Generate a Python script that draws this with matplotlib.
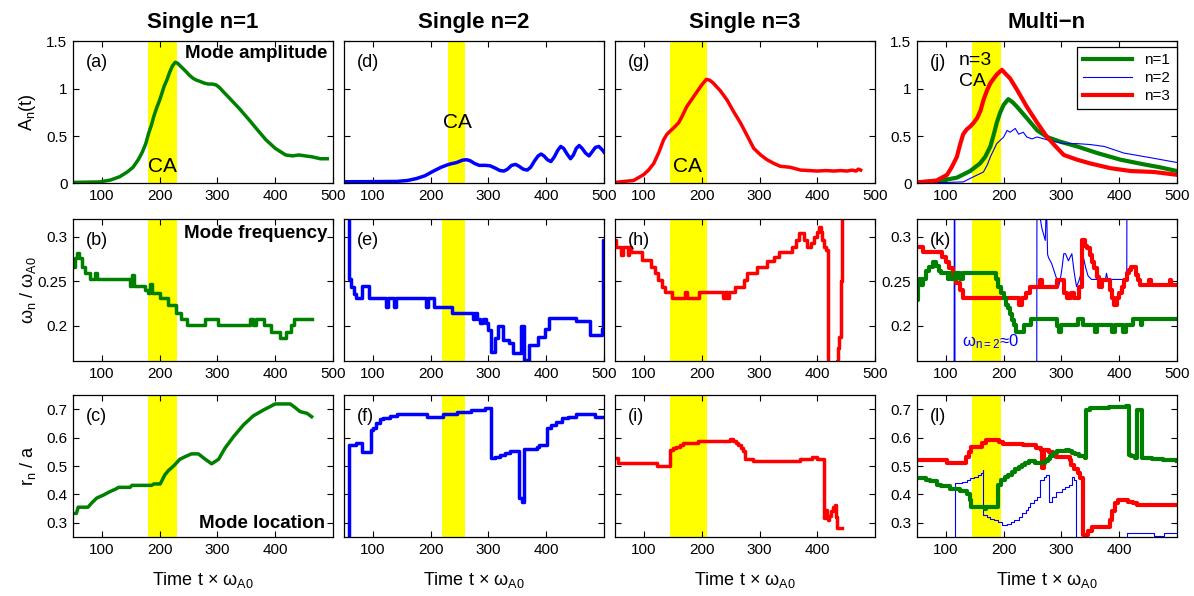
import matplotlib
matplotlib.use("Agg")
import matplotlib.pyplot as plt
import numpy as np

plt.rcParams['font.family'] = ['Liberation Sans', 'DejaVu Sans']
plt.rcParams['mathtext.fontset'] = 'custom'
plt.rcParams['mathtext.rm'] = 'Liberation Sans'
plt.rcParams['mathtext.default'] = 'regular'

GREEN = '#008000'
BLUE = '#0000ff'
RED = '#ff0000'
YELLOW = '#ffff00'

######## data ###############################

# row 1 : mode amplitude
a_t = [50, 97, 115, 131, 144, 154, 163, 170, 176, 181, 186, 190, 195, 200, 208, 213, 217, 222, 227, 231, 236, 241, 246, 252, 258, 264, 269, 277, 284, 291, 298, 304, 310, 321, 338, 355, 370, 384, 400, 418, 430, 441, 452, 464, 478, 490]
a_A = [0.01, 0.015, 0.035, 0.07, 0.12, 0.17, 0.25, 0.33, 0.42, 0.53, 0.62, 0.71, 0.80, 0.88, 1.03, 1.10, 1.17, 1.24, 1.28, 1.27, 1.24, 1.21, 1.18, 1.14, 1.11, 1.09, 1.08, 1.06, 1.05, 1.05, 1.04, 1.01, 0.97, 0.90, 0.79, 0.67, 0.56, 0.46, 0.37, 0.30, 0.29, 0.30, 0.29, 0.28, 0.26, 0.26]

d_t = [50, 100, 141, 160, 175, 190, 205, 218, 231, 245, 255, 262, 268, 276, 284, 295, 303, 312, 320, 327, 333, 340, 347, 353, 360, 367, 373, 380, 386, 391, 396, 402, 408, 414, 420, 425, 430, 436, 442, 447, 452, 457, 462, 468, 474, 479, 485, 491, 496, 500]
d_A = [0.017, 0.018, 0.02, 0.03, 0.05, 0.08, 0.13, 0.17, 0.20, 0.22, 0.245, 0.25, 0.24, 0.21, 0.19, 0.19, 0.185, 0.16, 0.135, 0.13, 0.15, 0.19, 0.20, 0.18, 0.15, 0.14, 0.17, 0.24, 0.29, 0.31, 0.29, 0.25, 0.23, 0.28, 0.35, 0.39, 0.37, 0.31, 0.26, 0.30, 0.37, 0.40, 0.37, 0.32, 0.29, 0.33, 0.38, 0.39, 0.36, 0.33]

g_t = [50, 82, 99, 108, 117, 126, 134, 140, 145, 152, 160, 167, 174, 183, 192, 200, 208, 214, 220, 232, 244, 255, 267, 279, 290, 302, 313, 325, 336, 353, 371, 386, 400, 415, 429, 440, 452, 460, 467, 471, 475]
g_A = [0.01, 0.03, 0.09, 0.14, 0.21, 0.33, 0.46, 0.52, 0.55, 0.59, 0.64, 0.72, 0.81, 0.89, 0.97, 1.04, 1.10, 1.09, 1.06, 0.98, 0.88, 0.76, 0.64, 0.50, 0.37, 0.30, 0.25, 0.21, 0.18, 0.17, 0.14, 0.135, 0.13, 0.135, 0.13, 0.135, 0.13, 0.14, 0.13, 0.15, 0.14]

j_t1 = [50, 84, 119, 142, 159, 168, 177, 183, 188, 194, 200, 208, 215, 223, 240, 258, 275, 298, 327, 362, 402, 443, 470, 500]
j_A1 = [0.01, 0.02, 0.06, 0.13, 0.21, 0.28, 0.39, 0.52, 0.64, 0.75, 0.83, 0.89, 0.86, 0.81, 0.69, 0.56, 0.49, 0.44, 0.39, 0.32, 0.25, 0.20, 0.17, 0.13]
j_t2 = [50, 130, 148, 165, 172, 177, 188, 200, 206, 211, 220, 226, 234, 240, 249, 258, 281, 304, 327, 350, 374, 408, 455, 500]
j_A2 = [0.0, 0.015, 0.07, 0.12, 0.20, 0.28, 0.42, 0.49, 0.56, 0.54, 0.58, 0.52, 0.54, 0.49, 0.47, 0.49, 0.45, 0.42, 0.42, 0.41, 0.39, 0.32, 0.27, 0.22]
j_t3 = [50, 84, 102, 110, 119, 125, 130, 136, 142, 148, 154, 160, 165, 171, 177, 183, 188, 193, 197, 203, 211, 223, 240, 258, 275, 293, 304, 327, 350, 385, 420, 460, 500]
j_A3 = [0.01, 0.03, 0.09, 0.17, 0.28, 0.42, 0.52, 0.57, 0.60, 0.64, 0.69, 0.77, 0.88, 0.98, 1.06, 1.11, 1.15, 1.18, 1.20, 1.16, 1.11, 0.99, 0.81, 0.64, 0.49, 0.37, 0.30, 0.25, 0.21, 0.16, 0.13, 0.12, 0.09]

# row 2 : mode frequency (staircases)
b_t = [50, 53, 57, 60, 65, 70, 80, 88, 92, 148, 153, 156, 175, 180, 183, 186, 200, 214, 229, 237, 248, 278, 301, 356, 362, 366, 381, 393, 408, 419, 428, 433, 463]
b_w = [0.266, 0.276, 0.282, 0.276, 0.266, 0.2595, 0.252, 0.2595, 0.252, 0.2449, 0.2575, 0.2449, 0.24, 0.237, 0.247, 0.237, 0.2306, 0.2231, 0.2144, 0.207, 0.2006, 0.207, 0.2006, 0.207, 0.2006, 0.207, 0.2006, 0.193, 0.1856, 0.193, 0.2006, 0.207, 0.207]

e_t = [50, 58.5, 61.5, 67, 71, 82, 93, 123, 126, 137, 140, 192, 195, 205, 237, 274, 277, 281, 286, 291, 295, 300, 304, 312, 316, 326, 336, 343, 356, 361, 370, 386, 398, 404, 451, 476, 496, 499, 500]
e_w = [0.45, 0.253, 0.244, 0.236, 0.2305, 0.2447, 0.2305, 0.221, 0.2305, 0.221, 0.2305, 0.221, 0.2305, 0.2213, 0.2144, 0.207, 0.2144, 0.207, 0.2025, 0.207, 0.2025, 0.195, 0.1705, 0.186, 0.1994, 0.1836, 0.1798, 0.1695, 0.1998, 0.161, 0.178, 0.187, 0.196, 0.208, 0.205, 0.1893, 0.196, 0.296, 0.296]

h_t = [50, 52, 61, 64, 72, 75, 78, 96, 113, 119, 125, 131, 137, 148, 171, 174, 195, 236, 240, 243, 247, 258, 273, 279, 296, 313, 325, 334, 357, 363, 368, 377, 383, 389, 394, 400, 403, 406, 409, 412, 415, 418, 434, 436, 438, 441, 443]
h_w = [0.296, 0.289, 0.28, 0.289, 0.28, 0.289, 0.283, 0.274, 0.2663, 0.2588, 0.2513, 0.2437, 0.2374, 0.2305, 0.2375, 0.2305, 0.2374, 0.2305, 0.2374, 0.2305, 0.2374, 0.2437, 0.2513, 0.2588, 0.2663, 0.2727, 0.2775, 0.2825, 0.289, 0.296, 0.3039, 0.296, 0.289, 0.293, 0.300, 0.306, 0.3113, 0.306, 0.296, 0.2888, 0.285, 0.05, 0.16, 0.175, 0.187, 0.25, 0.40]

k_t1 = [50, 51, 54, 57, 60, 65, 71, 77, 83, 88, 92, 103, 106, 109, 118, 125, 130, 186, 191, 196, 200, 204, 208, 211, 214, 217, 221, 236, 248, 293, 296, 299, 329, 337, 358, 362, 388, 392, 406, 411, 424, 437, 440, 500]
k_w1 = [0.2287, 0.2476, 0.252, 0.246, 0.252, 0.2613, 0.2663, 0.272, 0.267, 0.2613, 0.2588, 0.252, 0.2588, 0.252, 0.2588, 0.252, 0.2588, 0.252, 0.2437, 0.2363, 0.2306, 0.2231, 0.2194, 0.2131, 0.2063, 0.2006, 0.193, 0.2006, 0.207, 0.1994, 0.193, 0.2006, 0.207, 0.2006, 0.193, 0.2006, 0.193, 0.2006, 0.193, 0.2006, 0.207, 0.2006, 0.207, 0.207]
k_t2 = [50, 114, 115, 116, 257, 258, 261, 266, 272, 274, 276, 278, 283, 288, 292, 295, 298, 301, 304, 307, 312, 318, 322, 326, 330, 334, 338, 342, 346, 352, 376, 378, 380, 413, 414, 500]
k_w2 = [0.0, 0.0, 0.6, 0.0, 0.0, 0.6, 0.33, 0.31, 0.296, 0.34, 0.28, 0.276, 0.27, 0.26, 0.252, 0.244, 0.252, 0.265, 0.281, 0.281, 0.273, 0.281, 0.26, 0.244, 0.25, 0.259, 0.277, 0.265, 0.256, 0.252, 0.252, 0.259, 0.252, 0.252, 0.6, 0.6]
k_t3 = [50, 61, 93, 100, 106, 112, 118, 124, 130, 226, 232, 238, 245, 263, 267, 292, 304, 310, 316, 322, 330, 336, 341, 345, 349, 352, 356, 361, 365, 370, 384, 388, 391, 396, 400, 404, 408, 413, 417, 421, 429, 432, 436, 452, 455, 487, 490, 500]
k_w3 = [0.2888, 0.283, 0.2775, 0.272, 0.2646, 0.257, 0.2475, 0.24, 0.2306, 0.2231, 0.2306, 0.2363, 0.2437, 0.2513, 0.2437, 0.2513, 0.2363, 0.2306, 0.2363, 0.2306, 0.2437, 0.296, 0.29, 0.287, 0.28, 0.272, 0.265, 0.2551, 0.2437, 0.2513, 0.24, 0.2306, 0.2231, 0.2306, 0.2363, 0.2437, 0.2513, 0.2588, 0.2625, 0.2663, 0.257, 0.2513, 0.2456, 0.2513, 0.2456, 0.2513, 0.2456, 0.2456]

# row 3 : mode location
c_t = [50, 56, 59, 76, 82, 91, 103, 114, 123, 129, 149, 152, 186, 190, 201, 209, 215, 224, 235, 244, 255, 267, 279, 290, 302, 313, 328, 345, 362, 380, 400, 426, 434, 443, 455, 463]
c_r = [0.333, 0.333, 0.355, 0.355, 0.369, 0.387, 0.398, 0.41, 0.418, 0.425, 0.425, 0.432, 0.432, 0.437, 0.437, 0.469, 0.484, 0.50, 0.524, 0.533, 0.543, 0.543, 0.524, 0.508, 0.524, 0.563, 0.604, 0.645, 0.677, 0.698, 0.719, 0.719, 0.707, 0.692, 0.686, 0.674]

f_t = [57.5, 59, 71, 82, 96, 101, 105, 112, 118, 130, 141, 193, 221, 245, 270, 294, 305, 312, 320, 329, 338, 353, 358, 361, 384, 387, 402, 408, 416, 428, 437, 452, 484, 500]
f_r = [0.1, 0.574, 0.582, 0.55, 0.627, 0.633, 0.653, 0.665, 0.671, 0.678, 0.682, 0.673, 0.682, 0.689, 0.697, 0.703, 0.527, 0.533, 0.539, 0.545, 0.553, 0.386, 0.375, 0.56, 0.566, 0.574, 0.633, 0.645, 0.656, 0.668, 0.674, 0.682, 0.674, 0.674]

i_t = [50, 55, 122, 145, 150, 156, 162, 167, 194, 249, 255, 259, 263, 268, 272, 275, 289, 370, 390, 399, 411, 413, 415, 417, 419, 421, 424, 427, 430, 432, 434, 443]
i_r = [0.527, 0.51, 0.502, 0.556, 0.562, 0.567, 0.575, 0.582, 0.59, 0.594, 0.59, 0.582, 0.574, 0.563, 0.553, 0.524, 0.517, 0.524, 0.533, 0.524, 0.316, 0.33, 0.345, 0.325, 0.311, 0.325, 0.34, 0.355, 0.363, 0.32, 0.281, 0.281]

l_t1 = [50, 66, 72, 84, 92, 107, 124, 136, 141, 143, 162, 167, 170, 188, 190, 196, 202, 208, 214, 220, 226, 231, 237, 243, 254, 272, 276, 280, 286, 292, 307, 313, 318, 324, 330, 341, 342, 350, 382, 411, 417, 420, 428, 431, 439, 457, 475, 500]
l_r1 = [0.457, 0.452, 0.447, 0.435, 0.43, 0.42, 0.413, 0.401, 0.38, 0.355, 0.355, 0.348, 0.355, 0.355, 0.433, 0.451, 0.46, 0.468, 0.478, 0.488, 0.496, 0.504, 0.51, 0.517, 0.51, 0.517, 0.525, 0.535, 0.545, 0.553, 0.556, 0.552, 0.547, 0.541, 0.535, 0.53, 0.697, 0.703, 0.709, 0.71, 0.539, 0.535, 0.53, 0.697, 0.53, 0.524, 0.521, 0.517]
l_t2 = [50, 115, 128, 136, 142, 148, 156, 160, 164, 165, 171, 177, 184, 191, 197, 206, 212, 218, 226, 232, 238, 242, 246, 252, 258, 262, 269, 274, 278, 284, 290, 301, 306, 313, 318, 322, 326, 414, 460, 478, 500]
l_r2 = [0.0, 0.439, 0.445, 0.45, 0.457, 0.463, 0.468, 0.475, 0.486, 0.327, 0.321, 0.315, 0.309, 0.303, 0.292, 0.297, 0.303, 0.309, 0.321, 0.333, 0.344, 0.356, 0.369, 0.38, 0.392, 0.45, 0.46, 0.468, 0.374, 0.392, 0.41, 0.42, 0.427, 0.433, 0.463, 0.45, 0.0, 0.265, 0.253, 0.265, 0.265]
l_t3 = [50, 102, 135, 140, 143, 163, 169, 192, 198, 233, 256, 265, 267, 270, 279, 285, 291, 314, 317, 322, 328, 332, 337, 346, 352, 384, 388, 392, 398, 415, 424, 430, 500]
l_r3 = [0.521, 0.51, 0.533, 0.55, 0.568, 0.58, 0.592, 0.585, 0.578, 0.574, 0.562, 0.557, 0.493, 0.557, 0.55, 0.54, 0.533, 0.52, 0.504, 0.49, 0.474, 0.457, 0.257, 0.27, 0.286, 0.309, 0.34, 0.369, 0.381, 0.375, 0.369, 0.362, 0.362]

# CA windows (yellow) per column, [row1, row2, row3]
ca_spans = [
    [(180, 230), (180, 230), (180, 230)],
    [(230, 260), (220, 260), (220, 260)],
    [(145, 210), (145, 210), (145, 210)],
    [(145, 195), (145, 195), (145, 195)],
]
col_titles = ['Single n=1', 'Single n=2', 'Single n=3', 'Multi\u2212n']
panel_tags = [['(a)', '(b)', '(c)'], ['(d)', '(e)', '(f)'], ['(g)', '(h)', '(i)'], ['(j)', '(k)', '(l)']]

######## figure #########

fig = plt.figure(figsize=(11.94, 5.96), dpi=100)
lefts = [0.0611, 0.2881, 0.5151, 0.768]
bottoms = [0.6924, 0.3943, 0.099]
w, h = 0.2178, 0.2380

ylims = [(0, 1.5), (0.16, 0.32), (0.25, 0.75)]
yticks = [[0, 0.5, 1, 1.5], [0.2, 0.25, 0.3], [0.3, 0.4, 0.5, 0.6, 0.7]]
yticklabels = [['0', '0.5', '1', '1.5'], ['0.2', '0.25', '0.3'], ['0.3', '0.4', '0.5', '0.6', '0.7']]
xticks = [[100, 200, 300, 400, 500], [100, 200, 300, 400, 500], [100, 200, 300, 400]]

axes = [[None] * 3 for _ in range(4)]
for col in range(4):
    for row in range(3):
        ax = fig.add_axes([lefts[col], bottoms[row], w, h])
        axes[col][row] = ax
        ax.set_xlim(50, 500)
        ax.set_ylim(*ylims[row])
        ax.set_xticks(xticks[row])
        ax.set_yticks(yticks[row])
        if col in (1, 2):
            ax.set_yticklabels([])
        else:
            ax.set_yticklabels(yticklabels[row])
        ax.tick_params(direction='in', top=True, right=True, length=4, width=0.8, labelsize=11, pad=4)
        for s in ax.spines.values():
            s.set_linewidth(0.9)
        x0, x1 = ca_spans[col][row]
        ax.axvspan(x0, x1, color=YELLOW, lw=0, zorder=0)
        ax.text(0.05, 0.85, panel_tags[col][row], transform=ax.transAxes, fontsize=13, ha='left', va='center')
    axes[col][0].set_title(col_titles[col], fontsize=16, fontweight='bold', pad=10)
    axes[col][2].set_xlabel('Time t \u00d7 \u03c9$_{A0}$', fontsize=13)
    axes[col][2].xaxis.set_label_coords(0.5, -0.23)

lw = 2.5
thin = 0.8
axes[0][0].plot(a_t, a_A, color=GREEN, lw=lw)
axes[1][0].plot(d_t, d_A, color=BLUE, lw=lw)
axes[2][0].plot(g_t, g_A, color=RED, lw=lw)
axes[3][0].plot(j_t1, j_A1, color=GREEN, lw=3, label='n=1')
axes[3][0].plot(j_t2, j_A2, color=BLUE, lw=thin, label='n=2')
axes[3][0].plot(j_t3, j_A3, color=RED, lw=3, label='n=3')

axes[0][1].plot(b_t, b_w, color=GREEN, lw=lw, drawstyle='steps-post')
axes[1][1].plot(e_t, e_w, color=BLUE, lw=lw, drawstyle='steps-post')
axes[2][1].plot(h_t, h_w, color=RED, lw=lw, drawstyle='steps-post')
axes[3][1].plot(k_t2, k_w2, color=BLUE, lw=thin)
axes[3][1].plot(k_t3, k_w3, color=RED, lw=3, drawstyle='steps-post')
axes[3][1].plot(k_t1, k_w1, color=GREEN, lw=3, drawstyle='steps-post')

axes[0][2].plot(c_t, c_r, color=GREEN, lw=lw)
axes[1][2].plot(f_t, f_r, color=BLUE, lw=lw, drawstyle='steps-post')
axes[2][2].plot(i_t, i_r, color=RED, lw=lw, drawstyle='steps-post')
axes[3][2].plot(l_t2, l_r2, color=BLUE, lw=thin, drawstyle='steps-post')
axes[3][2].plot(l_t3, l_r3, color=RED, lw=3, drawstyle='steps-post')
axes[3][2].plot(l_t1, l_r1, color=GREEN, lw=3, drawstyle='steps-post')

# y labels on the first column
axes[0][0].set_ylabel('A$_n$(t)', fontsize=13)
axes[0][1].set_ylabel('\u03c9$_n$ / \u03c9$_{A0}$', fontsize=13)
axes[0][2].set_ylabel('r$_n$ / a', fontsize=13)
for row in range(3):
    axes[0][row].yaxis.set_label_coords(-0.135, 0.5)

# annotations
axes[0][0].text(0.98, 0.912, 'Mode amplitude', transform=axes[0][0].transAxes, fontsize=13.5, fontweight='bold', ha='right', va='center')
axes[0][1].text(0.98, 0.898, 'Mode frequency', transform=axes[0][1].transAxes, fontsize=13.5, fontweight='bold', ha='right', va='center')
axes[0][2].text(0.97, 0.095, 'Mode location', transform=axes[0][2].transAxes, fontsize=13.5, fontweight='bold', ha='right', va='center')
axes[0][0].text(205, 0.18, 'CA', fontsize=15, ha='center', va='center')
axes[1][0].text(247, 0.64, 'CA', fontsize=15, ha='center', va='center')
axes[2][0].text(175, 0.18, 'CA', fontsize=15, ha='center', va='center')
axes[3][0].text(123, 1.19, 'n=3\nCA', fontsize=14, ha='left', va='center', linespacing=1.3)
axes[3][1].text(128, 0.182, '\u03c9$_{n=2}$\u22480', fontsize=12, color=BLUE, ha='left', va='center')

leg = axes[3][0].legend(loc='upper right', bbox_to_anchor=(0.998, 0.96), borderaxespad=0, fontsize=11,
                        fancybox=False, framealpha=1, edgecolor='black', handlelength=3.2,
                        labelspacing=0.25, borderpad=0.4)
leg.get_frame().set_linewidth(0.9)

fig.savefig('out.png', dpi=100)
